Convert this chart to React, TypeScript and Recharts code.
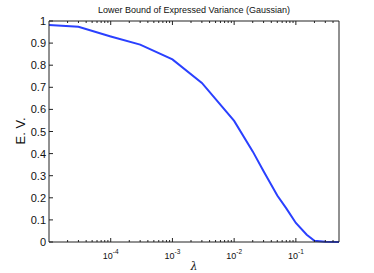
import { LineChart, Line, XAxis, YAxis } from 'recharts'

const LAMBDA = [1e-5, 3e-5, 1e-4, 3e-4, 1e-3, 3e-3, 1e-2, 2e-2, 3e-2, 5e-2, 7e-2, 0.1, 0.15, 0.2, 0.3, 0.5]
const EV = [0.982, 0.974, 0.93, 0.893, 0.826, 0.72, 0.548, 0.41, 0.32, 0.21, 0.152, 0.086, 0.033, 0.006, 0.001, 0]

const X_MAJOR = [1e-4, 1e-3, 1e-2, 1e-1]
const Y_TICKS = [0, 0.1, 0.2, 0.3, 0.4, 0.5, 0.6, 0.7, 0.8, 0.9, 1]
const Y_LABELS = ['0', '0.1', '0.2', '0.3', '0.4', '0.5', '0.6', '0.7', '0.8', '0.9', '1']

const X_DOMAIN = [1e-5, 0.5]

// minor ticks 2..9 per decade, inside the domain
const xMinor: number[] = []
for (let e = -5; e <= -1; e++) {
  for (let m = 2; m <= 9; m++) {
    const v = m * Math.pow(10, e)
    if (v < X_DOMAIN[1]) xMinor.push(v)
  }
}
const X_TICKS = [...X_MAJOR, ...xMinor].sort((a, b) => a - b)

const data = LAMBDA.map((l, i) => ({ lambda: l, ev: EV[i] }))

const FONT = 'Liberation Sans, Arial, Helvetica, sans-serif'
const INK = '#222'

const isMajor = (v: number) => X_MAJOR.some((m) => Math.abs(m - v) / m < 1e-6)

const XTick = (props: any) => {
  const { x, y, payload, top } = props
  const v = payload.value
  const major = isMajor(v)
  const len = major ? 4 : 2
  const dir = top ? 1 : -1
  const exp = Math.round(Math.log10(v))
  return (
    <g>
      <line x1={x} x2={x} y1={y} y2={y + dir * len} stroke={INK} strokeWidth={1} />
      {!top && major && (
        <text x={x} y={y + 16.5} textAnchor="middle" fontSize={9} fontFamily={FONT} fill="#111">
          10
          <tspan dy={-5} fontSize={6.5}>
            {exp}
          </tspan>
        </text>
      )}
    </g>
  )
}

const YTick = (props: any) => {
  const { x, y, payload, right } = props
  const idx = Y_TICKS.findIndex((t) => Math.abs(t - payload.value) < 1e-9)
  const dir = right ? -1 : 1
  return (
    <g>
      <line x1={x} x2={x + dir * 4} y1={y} y2={y} stroke={INK} strokeWidth={1} />
      {!right && (
        <text x={x - 3} y={y} dy={4} textAnchor="end" fontSize={11} fontFamily={FONT} fill="#111">
          {Y_LABELS[idx]}
        </text>
      )}
    </g>
  )
}

export default function App() {
  return (
    <div style={{ position: 'absolute', left: 0, top: 0, width: 374, height: 273, background: '#fff' }}>
      <LineChart width={374} height={273} data={data} margin={{ top: 20, right: 34, bottom: 0, left: 0 }}>
        <XAxis
          dataKey="lambda"
          type="number"
          scale="log"
          domain={X_DOMAIN}
          allowDataOverflow
          ticks={X_TICKS}
          interval={0}
          height={31}
          tickSize={0}
          tickMargin={0}
          tickLine={false}
          axisLine={{ stroke: INK }}
          tick={<XTick />}
        />
        <XAxis
          xAxisId="top"
          dataKey="lambda"
          orientation="top"
          type="number"
          scale="log"
          domain={X_DOMAIN}
          allowDataOverflow
          ticks={X_TICKS}
          interval={0}
          height={1}
          tickSize={0}
          tickMargin={0}
          tickLine={false}
          axisLine={{ stroke: INK }}
          tick={<XTick top />}
        />
        <YAxis
          type="number"
          domain={[0, 1]}
          ticks={Y_TICKS}
          interval={0}
          width={49}
          tickSize={0}
          tickMargin={0}
          tickLine={false}
          axisLine={{ stroke: INK }}
          tick={<YTick />}
        />
        <YAxis
          yAxisId="right"
          orientation="right"
          type="number"
          domain={[0, 1]}
          ticks={Y_TICKS}
          interval={0}
          width={1}
          tickSize={0}
          tickMargin={0}
          tickLine={false}
          axisLine={{ stroke: INK }}
          tick={<YTick right />}
        />
        <Line
          type="linear"
          dataKey="ev"
          stroke="#2a40ff"
          strokeWidth={2}
          dot={false}
          isAnimationActive={false}
        />
      </LineChart>
      <div
        style={{
          position: 'absolute',
          left: 194,
          top: 10,
          transform: 'translate(-50%, -50%)',
          fontFamily: FONT,
          fontSize: 9,
          whiteSpace: 'nowrap',
          color: '#111',
        }}
      >
        Lower Bound of Expressed Variance (Gaussian)
      </div>
      <div
        style={{
          position: 'absolute',
          left: 20,
          top: 131,
          transform: 'translate(-50%, -50%) rotate(-90deg)',
          fontFamily: FONT,
          fontSize: 13,
          whiteSpace: 'nowrap',
          color: '#111',
        }}
      >
        E. V.
      </div>
      <div
        style={{
          position: 'absolute',
          left: 194,
          top: 266,
          transform: 'translate(-50%, -50%)',
          fontFamily: 'DejaVu Serif, serif',
          fontStyle: 'italic',
          fontSize: 11,
          whiteSpace: 'nowrap',
          color: '#111',
        }}
      >
        λ
      </div>
    </div>
  )
}
